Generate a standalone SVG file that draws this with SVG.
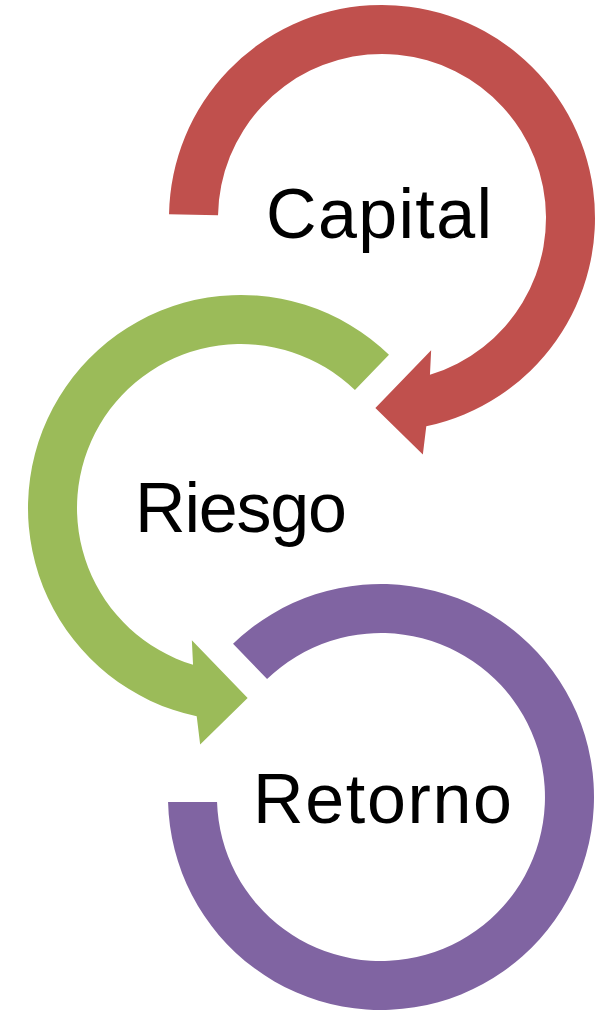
<svg xmlns="http://www.w3.org/2000/svg" width="599" height="1012" viewBox="0 0 599 1012">
  <style>
    .lbl { font-family: "Liberation Sans", Arial, sans-serif; font-size: 70px; fill: #000000; text-anchor: middle; }
    .red { fill: #C0504D; }
    .green { fill: #9BBB59; }
    .purple { fill: #8064A2; }
  </style>
  <rect width="599" height="1012" fill="#FFFFFF"/>
  <g id="node-capital">
    <path class="red" d="M 169.03,214.28 A 213 213 0 1 1 426.29,426.34 L 422.85,454.5 L 375.37,407.88 L 431.15,350.16 L 429.95,374.83 A 164 164 0 1 0 218.02,215.14 Z"/>
    <text class="lbl" x="379" y="238" textLength="226" lengthAdjust="spacing">Capital</text>
  </g>
  <g id="node-riesgo">
    <path class="green" d="M 388.97,354.79 A 213 213 0 1 0 196.71,716.34 L 200.15,744.5 L 247.63,697.88 L 191.85,640.16 L 193.05,664.83 A 164 164 0 1 1 354.93,390.03 Z"/>
    <text class="lbl" x="241" y="532" textLength="212" lengthAdjust="spacing">Riesgo</text>
  </g>
  <g id="node-retorno">
    <path class="purple" d="M 233.03,643.79 A 213 213 0 1 1 168.06,802 L 217.05,802 A 164 164 0 1 0 267.07,679.03 Z"/>
    <text class="lbl" x="382.5" y="823" textLength="259" lengthAdjust="spacing">Retorno</text>
  </g>
  <g id="connectors"></g>
</svg>
